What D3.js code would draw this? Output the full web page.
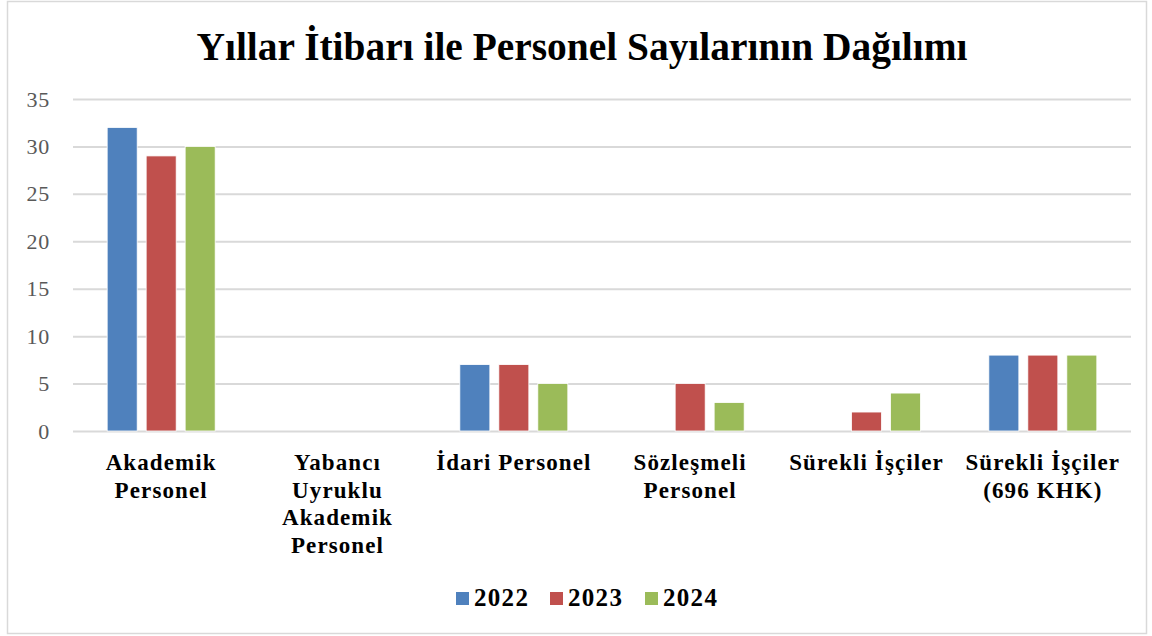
<!DOCTYPE html>
<html>
<head>
<meta charset="utf-8">
<script src="https://cdn.jsdelivr.net/npm/d3@7"></script>
<style>
html,body{margin:0;padding:0;background:#fff;}
svg{display:block;}
</style>
</head>
<body>
<svg id="chart" width="1152" height="636"></svg>
<script>
const categories = ["Akademik Personel", "Yabancı Uyruklu Akademik Personel", "İdari Personel", "Sözleşmeli Personel", "Sürekli İşçiler", "Sürekli İşçiler (696 KHK)"];
const categoryLines = [["Akademik","Personel"],["Yabancı","Uyruklu","Akademik","Personel"],["İdari Personel"],["Sözleşmeli","Personel"],["Sürekli İşçiler"],["Sürekli İşçiler","(696 KHK)"]];
const seriesNames = ["2022", "2023", "2024"];
const values2022 = [32, 0, 7, 0, 0, 8];
const values2023 = [29, 0, 7, 5, 2, 8];
const values2024 = [30, 0, 5, 3, 4, 8];
const yTicks = [0, 5, 10, 15, 20, 25, 30, 35];
const colors = ["#4F81BD", "#C0504D", "#9BBB59"];
const titleText = "Yıllar İtibarı ile Personel Sayılarının Dağılımı";

const series = [values2022, values2023, values2024];
const svg = d3.select("#chart");
const W = 1152, H = 636;
const m = {left: 73, right: 21, top: 99, bottom: 205};

// outer border
svg.append("rect").attr("x", 7.5).attr("y", 1.5).attr("width", 1139).attr("height", 632)
  .attr("fill", "#fff").attr("stroke", "#D9D9D9").attr("stroke-width", 1.5);

const x0 = d3.scaleBand().domain(categories).range([m.left, W - m.right]).paddingInner(0).paddingOuter(0);
const y = d3.scaleLinear().domain([0, 35]).range([431, 99]);
const groupW = 108;
const x1 = d3.scaleBand().domain(seriesNames).range([0, groupW]).paddingInner(0.23).paddingOuter(0);

// gridlines
const grid = svg.append("g").attr("class", "grid")
  .call(d3.axisLeft(y).tickValues(yTicks).tickSize(-(W - m.right - m.left)).tickFormat(""))
  .attr("transform", `translate(${m.left},0)`);
grid.select(".domain").remove();
grid.selectAll("line").attr("stroke", "#D9D9D9").attr("stroke-width", 2);

// y axis labels
const yAxis = svg.append("g").attr("transform", `translate(${m.left},0)`)
  .call(d3.axisLeft(y).tickValues(yTicks).tickSize(0).tickPadding(23));
yAxis.select(".domain").remove();
yAxis.selectAll("text").attr("font-family", "Liberation Serif, serif").attr("font-size", 22)
  .attr("letter-spacing", 0.8).attr("fill", "#595959");

// bars
const groups = svg.append("g").selectAll("g").data(categories).join("g")
  .attr("transform", d => `translate(${x0(d) + x0.bandwidth() / 2 - groupW / 2},0)`);
groups.selectAll("rect").data((d, i) => seriesNames.map((s, j) => ({s, j, v: series[j][i]})))
  .join("rect")
  .filter(d => d.v > 0)
  .attr("x", d => x1(d.s))
  .attr("width", x1.bandwidth())
  .attr("y", d => y(d.v))
  .attr("height", d => y(0) - y(d.v))
  .attr("fill", d => colors[d.j])
  .attr("stroke", "#fff").attr("stroke-width", 0.8);

// category labels
const lab = svg.append("g").selectAll("text").data(categories).join("text")
  .attr("text-anchor", "middle")
  .attr("font-family", "Liberation Serif, serif").attr("font-weight", "bold").attr("font-size", 23)
  .attr("letter-spacing", 1.1)
  .attr("fill", "#000")
  .attr("x", d => x0(d) + x0.bandwidth() / 2)
  .attr("y", 470);
lab.each(function(d, i) {
  const t = d3.select(this);
  categoryLines[i].forEach((ln, k) => {
    t.append("tspan").attr("x", x0(d) + x0.bandwidth() / 2).attr("dy", k === 0 ? 0 : 27.7).text(ln);
  });
});

// title
svg.append("text").attr("x", 582).attr("y", 60).attr("text-anchor", "middle")
  .attr("font-family", "Liberation Serif, serif").attr("font-weight", "bold").attr("font-size", 40)
  .attr("textLength", 771).attr("lengthAdjust", "spacingAndGlyphs")
  .attr("fill", "#000").text(titleText);

// legend
const legX = [456, 550, 645];
const leg = svg.append("g").selectAll("g").data(seriesNames).join("g")
  .attr("transform", (d, i) => `translate(${legX[i]},592)`);
leg.append("rect").attr("width", 13).attr("height", 13).attr("fill", (d, i) => colors[i]);
leg.append("text").attr("x", 18).attr("y", 14)
  .attr("font-family", "Liberation Serif, serif").attr("font-weight", "bold").attr("font-size", 25)
  .attr("letter-spacing", 1.3)
  .attr("fill", "#000").text(d => d);
</script>
</body>
</html>
